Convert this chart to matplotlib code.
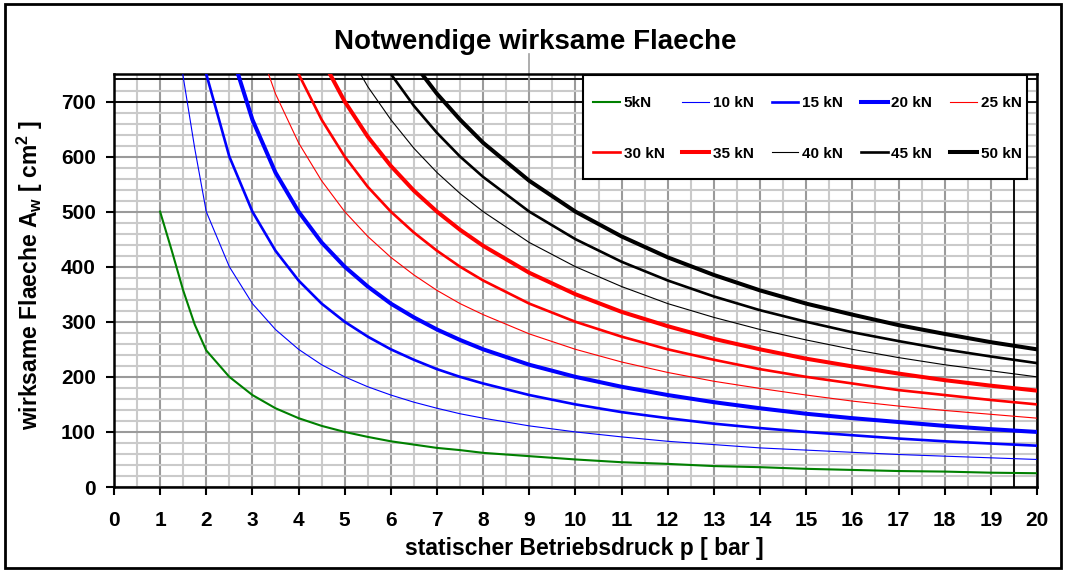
"""
Notwendige wirksame Flaeche: required effective area vs. static operating pressure
for several forces (5 .. 50 kN).
"""
import matplotlib
matplotlib.use('Agg')
import matplotlib.pyplot as plt
from matplotlib.patches import Rectangle
from matplotlib.ticker import MultipleLocator

OUTPUT_PNG = "out.png"

# pressure points [bar]
P_BAR = [1, 1.25, 1.5, 1.75, 2, 2.5, 3, 3.5, 4, 4.5, 5, 5.5, 6, 6.5, 7, 7.5, 8,
         9, 10, 11, 12, 13, 14, 15, 16, 17, 18, 19, 20]

# area [cm^2] per force
A_5KN = [500, 430, 357, 295, 248, 200, 167, 143, 125, 111, 100, 91, 83, 77, 71, 67, 62,
         56, 50, 45, 42, 38, 36, 33, 31, 29, 28, 26, 25]
A_10KN = [1000, 900, 745, 615, 500, 400, 333, 286, 250, 222, 200, 182, 167, 154, 143, 133, 125,
          111, 100, 91, 83, 77, 71, 67, 63, 59, 56, 53, 50]
A_15KN = [1500, 1200, 1000, 857, 750, 600, 500, 429, 375, 333, 300, 273, 250, 231, 214, 200, 188,
          167, 150, 136, 125, 115, 107, 100, 94, 88, 83, 79, 75]
A_20KN = [2000, 1600, 1333, 1143, 1000, 800, 667, 571, 500, 444, 400, 364, 333, 308, 286, 267, 250,
          222, 200, 182, 167, 154, 143, 133, 125, 118, 111, 105, 100]
A_25KN = [2500, 2000, 1667, 1429, 1250, 1000, 833, 714, 625, 556, 500, 455, 417, 385, 357, 333, 313,
          278, 250, 227, 208, 192, 179, 167, 156, 147, 139, 132, 125]
A_30KN = [3000, 2400, 2000, 1714, 1500, 1200, 1000, 857, 750, 667, 600, 545, 500, 462, 429, 400, 375,
          333, 300, 273, 250, 231, 214, 200, 188, 176, 167, 158, 150]
A_35KN = [3500, 2800, 2333, 2000, 1750, 1400, 1167, 1000, 875, 778, 700, 636, 583, 538, 500, 467, 438,
          389, 350, 318, 292, 269, 250, 233, 219, 206, 194, 184, 175]
A_40KN = [4000, 3200, 2667, 2286, 2000, 1600, 1333, 1143, 1000, 889, 800, 727, 667, 615, 571, 533, 500,
          444, 400, 364, 333, 308, 286, 267, 250, 235, 222, 211, 200]
A_45KN = [4500, 3600, 3000, 2571, 2250, 1800, 1500, 1286, 1125, 1000, 900, 818, 750, 692, 643, 600, 563,
          500, 450, 409, 375, 346, 321, 300, 281, 265, 250, 237, 225]
A_50KN = [5000, 4000, 3333, 2857, 2500, 2000, 1667, 1429, 1250, 1111, 1000, 909, 833, 769, 714, 667, 625,
          556, 500, 455, 417, 385, 357, 333, 313, 294, 278, 263, 250]

SERIES = [A_5KN, A_10KN, A_15KN, A_20KN, A_25KN, A_30KN, A_35KN, A_40KN, A_45KN, A_50KN]
LABELS = ['5kN', '10 kN', '15 kN', '20 kN', '25 kN', '30 kN', '35 kN', '40 kN', '45 kN', '50 kN']
COLORS = ['#008000', '#0000ff', '#0000ff', '#0000ff', '#ff0000', '#ff0000', '#ff0000',
          '#000000', '#000000', '#000000']
WIDTHS = [1.5, 0.8, 1.9, 2.9, 0.8, 1.9, 2.9, 0.8, 1.9, 2.9]

# black reference lines in the original sheet
H_LINES = [700, 740]
V_LINE = 19.5


def generate_chart():
    plt.rcParams['font.family'] = ['Liberation Sans', 'DejaVu Sans']
    plt.rcParams['font.weight'] = 'bold'
    plt.rcParams['mathtext.fontset'] = 'custom'
    plt.rcParams['mathtext.bf'] = 'Liberation Sans:bold'
    plt.rcParams['mathtext.rm'] = 'Liberation Sans:bold'

    fig = plt.figure(figsize=(10.66, 5.70), dpi=100)
    ax = fig.add_axes([0.1069, 0.1456, 0.8659, 0.7246])

    lines = []
    for vals, lab, col, lw in zip(SERIES, LABELS, COLORS, WIDTHS):
        ln, = ax.plot(P_BAR, vals, color=col, linewidth=lw, label=lab, zorder=3)
        lines.append(ln)

    for h in H_LINES:
        ax.axhline(h, color='black', linewidth=1.3, zorder=2)
    ax.axvline(V_LINE, color='black', linewidth=1.3, zorder=2)
    # thin grey marker line at 9 bar reaching into the title area
    ax.axvline(9, ymin=38 / 750, ymax=787 / 750, color='#a0a0a0', linewidth=1.2,
               clip_on=False, zorder=2)

    ax.set_xlim(0, 20)
    ax.set_ylim(0, 750)
    ax.xaxis.set_major_locator(MultipleLocator(1))
    ax.xaxis.set_minor_locator(MultipleLocator(0.5))
    ax.yaxis.set_major_locator(MultipleLocator(100))
    ax.yaxis.set_minor_locator(MultipleLocator(20))
    ax.set_yticks(range(0, 701, 100))

    ax.grid(which='major', color='#9a9a9a', linewidth=1.5, zorder=1)
    ax.grid(which='minor', color='#cacaca', linewidth=1.5, zorder=0)
    ax.set_axisbelow(True)

    ax.tick_params(which='major', direction='out', length=6, width=1.5, colors='black',
                   labelsize=15)
    ax.tick_params(axis='x', which='major', pad=11)
    ax.tick_params(axis='y', which='major', pad=7)
    ax.tick_params(which='minor', length=0)
    for sp in ax.spines.values():
        sp.set_linewidth(1.8)
        sp.set_color('black')

    # legend box drawn by hand so the padding can differ top/side
    ax.add_patch(Rectangle((0.508, 0.746), 0.481, 0.252, transform=ax.transAxes,
                           facecolor='white', edgecolor='black', linewidth=1.5,
                           clip_on=False, zorder=4.5))
    # legend filled row by row (matplotlib fills columns first)
    order = [0, 5, 1, 6, 2, 7, 3, 8, 4, 9]
    leg = ax.legend([lines[i] for i in order], [LABELS[i] for i in order],
                    ncol=5, loc='upper left', bbox_to_anchor=(0.519, 0.947),
                    prop={'weight': 'bold', 'size': 11}, frameon=False,
                    handlelength=1.75, handletextpad=0.25, columnspacing=1.17,
                    labelspacing=2.4, borderpad=0, borderaxespad=0)
    leg.set_zorder(5)

    fig.text(0.502, 1 - 42 / 570, 'Notwendige wirksame Flaeche', ha='center', va='center',
             fontsize=20, fontweight='bold')
    fig.text(0.548, 1 - 548 / 570, 'statischer Betriebsdruck p [ bar ]', ha='center',
             va='center', fontsize=16.5, fontweight='bold')
    fig.text(0.028, 1 - 275 / 570, r'wirksame Flaeche A$_\mathbf{w}$ [ cm$^\mathbf{2}$ ]',
             ha='center', va='center', rotation=90, fontsize=16.5, fontweight='bold')

    # outer frame of the sheet
    fig.patches.append(Rectangle((0.0047, 0.004), 0.991, 0.989, transform=fig.transFigure,
                                 fill=False, edgecolor='black', linewidth=2))

    fig.savefig(OUTPUT_PNG, dpi=100)
    plt.close(fig)


if __name__ == "__main__":
    generate_chart()
